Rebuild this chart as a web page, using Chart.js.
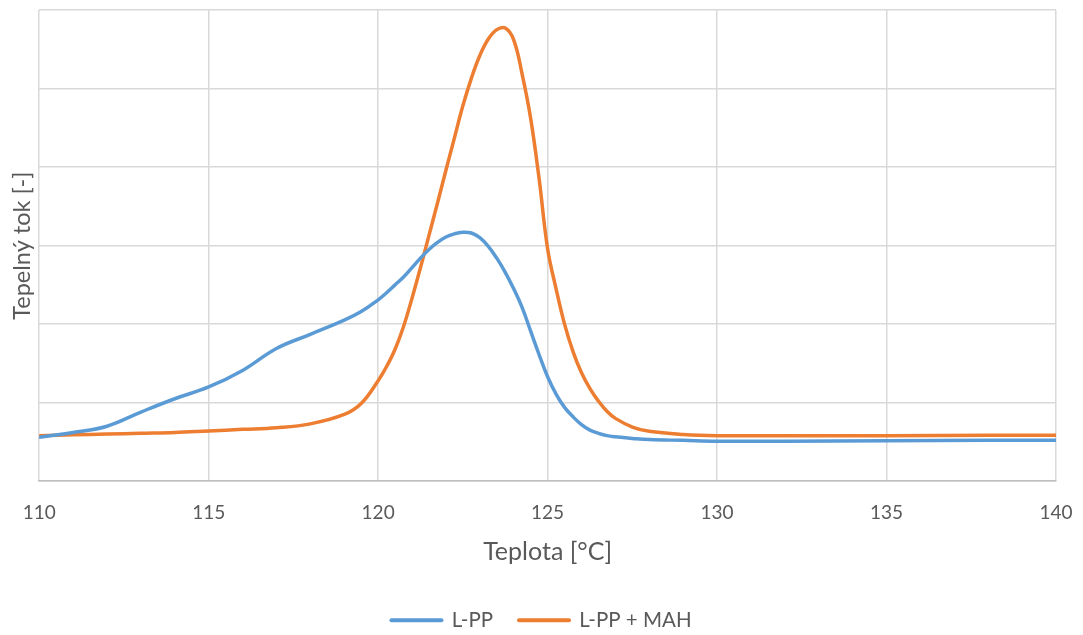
<!DOCTYPE html>
<html>
<head>
<meta charset="utf-8">
<title>Tepelný tok – L-PP</title>
<script src="https://cdn.jsdelivr.net/npm/chart.js@4/dist/chart.umd.min.js"></script>
<style>
  html, body { margin: 0; padding: 0; background: #ffffff; }
  #wrap { width: 1083px; height: 635px; }
</style>
</head>
<body>
<div id="wrap"><canvas id="dsc" width="1083" height="635"></canvas></div>
<script>
// Temperature samples [°C]
const temps = [
  110, 111, 112, 113, 114, 115, 116, 117, 118, 119, 119.5,
  120, 120.25, 120.5, 120.75, 121, 121.25, 121.5, 121.75,
  122, 122.25, 122.5, 122.75, 123, 123.25, 123.5, 123.75,
  124, 124.25, 124.5, 124.75, 125, 125.25, 125.5, 125.75,
  126, 126.25, 126.5, 126.75, 127, 127.5, 128, 129, 130, 132, 135, 138, 140
];

// Heat flow, L-PP [-]
const heatFlowLPP = [
  0.56, 0.62, 0.70, 0.88, 1.05, 1.20, 1.41, 1.69, 1.87, 2.05, 2.16,
  2.31, 2.40, 2.50, 2.60, 2.72, 2.84, 2.95, 3.04,
  3.11, 3.15, 3.17, 3.16, 3.10, 2.99, 2.84, 2.66,
  2.45, 2.21, 1.91, 1.61, 1.33, 1.11, 0.94, 0.82,
  0.72, 0.65, 0.61, 0.58, 0.565, 0.545, 0.53, 0.52, 0.51, 0.51, 0.515, 0.52, 0.52
];

// Heat flow, L-PP + MAH [-]
const heatFlowLPPMAH = [
  0.58, 0.59, 0.60, 0.61, 0.62, 0.64, 0.66, 0.68, 0.73, 0.85, 0.99,
  1.28, 1.46, 1.68, 1.97, 2.33, 2.72, 3.13, 3.54,
  3.96, 4.37, 4.78, 5.13, 5.42, 5.63, 5.75, 5.77,
  5.62, 5.18, 4.62, 3.85, 2.96, 2.45, 2.00, 1.65,
  1.38, 1.18, 1.02, 0.89, 0.80, 0.69, 0.635, 0.595, 0.58, 0.58, 0.58, 0.585, 0.585
];

const seriesNames = ['L-PP', 'L-PP + MAH'];
const seriesColors = ['#5b9bd5', '#ed7d31'];

const toPoints = ys => temps.map((t, i) => ({ x: t, y: ys[i] }));

const FONT = 'Lato, "Open Sans", "DejaVu Sans", sans-serif';
const TEXT = '#595959';

new Chart(document.getElementById('dsc'), {
  type: 'scatter',
  data: {
    datasets: [heatFlowLPP, heatFlowLPPMAH].map((ys, i) => ({
      label: seriesNames[i],
      data: toPoints(ys),
      showLine: true,
      borderColor: seriesColors[i],
      backgroundColor: seriesColors[i],
      borderWidth: 3.5,
      pointRadius: 0,
      pointHoverRadius: 0,
      tension: 0.4,
      borderCapStyle: 'round',
      borderJoinStyle: 'round'
    }))
  },
  options: {
    responsive: false,
    animation: false,
    layout: { padding: { left: 0, right: 0, top: 10, bottom: 0 } },
    scales: {
      x: {
        type: 'linear',
        min: 110,
        max: 140,
        ticks: {
          stepSize: 5,
          color: TEXT,
          padding: 20.5,
          font: { family: FONT, size: 19 }
        },
        grid: { color: '#d9d9d9', lineWidth: 1.5, drawTicks: false },
        border: { color: '#bfbfbf', width: 1.5 },
        title: {
          display: true,
          text: 'Teplota [°C]',
          color: TEXT,
          font: { family: FONT, size: 25 },
          padding: { top: -8, bottom: 17 }
        },
        // fixed side margins around the plot area
        afterFit: axis => { axis.paddingLeft = 0; axis.paddingRight = 27; }
      },
      y: {
        min: 0,
        max: 6,
        ticks: { stepSize: 1, display: false },
        grid: { color: '#d9d9d9', lineWidth: 1.5, drawTicks: false },
        border: { display: false },
        title: {
          display: true,
          text: 'Tepelný tok [-]',
          color: TEXT,
          font: { family: FONT, size: 23.5 },
          padding: { top: 8, bottom: 3 }
        }
      }
    },
    plugins: {
      tooltip: { enabled: false },
      legend: {
        position: 'bottom',
        maxHeight: 51,
        labels: {
          color: TEXT,
          font: { family: FONT, size: 20.5 },
          usePointStyle: true,
          pointStyleWidth: 50,
          padding: 26,
          generateLabels: chart => chart.data.datasets.map((ds, i) => ({
            text: ds.label,
            datasetIndex: i,
            pointStyle: 'line',
            strokeStyle: ds.borderColor,
            fillStyle: ds.borderColor,
            lineWidth: 4,
            lineCap: 'round',
            fontColor: TEXT,
            hidden: false
          }))
        }
      }
    }
  }
});
</script>
</body>
</html>
